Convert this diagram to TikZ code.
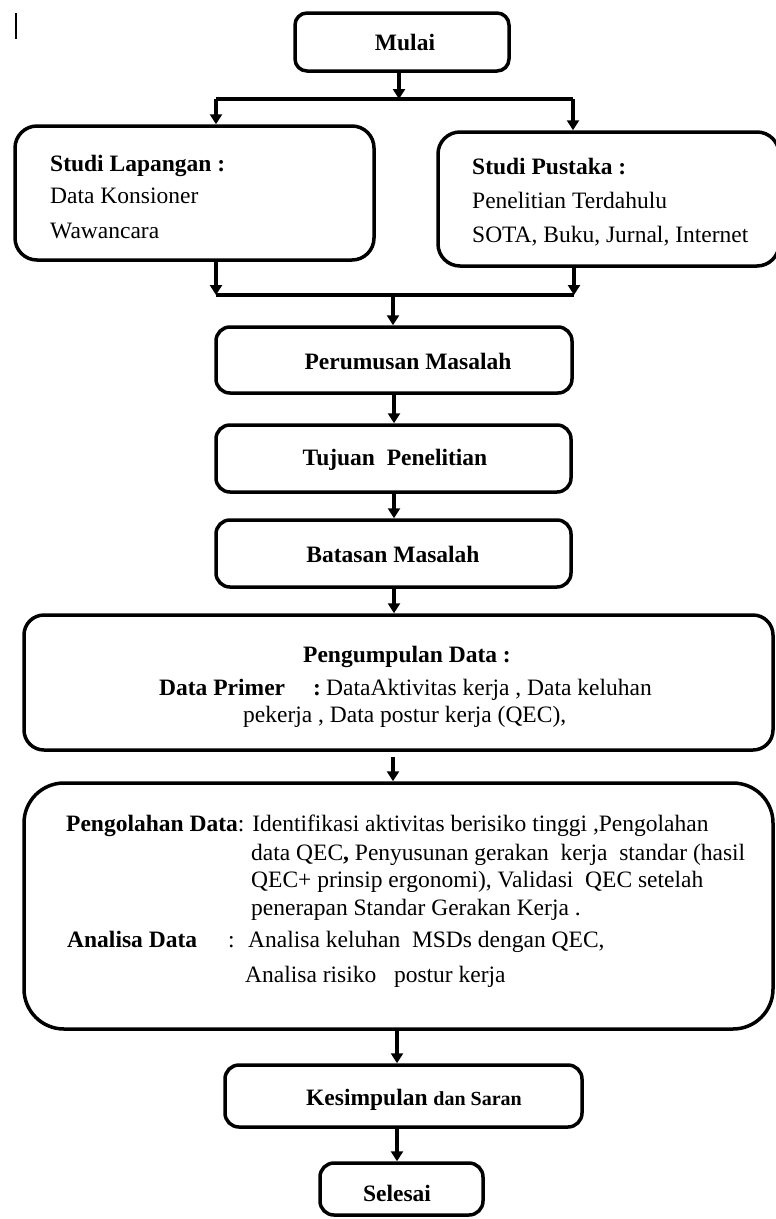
\documentclass[tikz,border=0pt]{standalone}
\usepackage{fontspec}
\setmainfont{Liberation Serif}
\usetikzlibrary{arrows.meta}
\begin{document}
\begin{tikzpicture}[x=1pt,y=-1pt,
  box/.style={draw, line width=3.5pt, rounded corners=#1, inner sep=0pt},
  box/.default=14pt,
  arr/.style={line width=3.5pt, -{Triangle[width=12pt,length=10pt]}},
  ln/.style={line width=3.5pt},
  txt/.style={anchor=base west, inner sep=0pt, font=\fontsize{23.5}{28}\selectfont},
  btxt/.style={anchor=base west, inner sep=0pt, font=\fontsize{23.5}{28}\selectfont\bfseries},
  ctxt/.style={anchor=base, inner sep=0pt, font=\fontsize{23.5}{28}\selectfont\bfseries}]
\useasboundingbox (0,0) rectangle (776,1219);
\fill[white] (0,0) rectangle (776,1219);
% stray mark
\draw[line width=2.5pt] (16,13) -- (16,39);
% boxes
\node[box=12pt, minimum width=214pt, minimum height=58pt] (mulai) at (402,42) {};
\node[box=22pt, minimum width=359pt, minimum height=134pt] (lap) at (194.5,193) {};
\node[box=22pt, minimum width=341pt, minimum height=134pt] (pus) at (608.5,199) {};
\node[box, minimum width=356pt, minimum height=66pt] (perum) at (394,360) {};
\node[box, minimum width=355pt, minimum height=67pt] (tuj) at (393.5,458.5) {};
\node[box, minimum width=355pt, minimum height=67pt] (bat) at (393.5,553.5) {};
\node[box=20pt, minimum width=749pt, minimum height=135pt] (kum) at (398.5,682.5) {};
\node[box=40pt, minimum width=749pt, minimum height=246pt] (olah) at (398.5,906) {};
\node[box, minimum width=357pt, minimum height=62pt] (kes) at (403.5,1096) {};
\node[box=14pt, minimum width=163pt, minimum height=52pt] (sel) at (401.5,1189) {};
% texts
\node[ctxt] (tmulai) at (405,50) {Mulai};
\node[btxt] (tl1) at (50,171) {Studi Lapangan :};
\node[txt] (tl2) at (50,203) {Data Konsioner};
\node[txt] (tl3) at (50,238) {Wawancara};
\node[btxt] (tp1) at (472,174) {Studi Pustaka :};
\node[txt] (tp2) at (472,208) {Penelitian Terdahulu};
\node[txt] (tp3) at (472,242) {SOTA, Buku, Jurnal, Internet};
\node[ctxt] (tperum) at (408,369) {Perumusan Masalah};
\node[ctxt] (ttuj) at (395,465) {Tujuan\ \ Penelitian};
\node[ctxt] (tbat) at (393,562) {Batasan Masalah};
\node[ctxt] (tk1) at (407,662) {Pengumpulan Data :};
\node[btxt] (tk2) at (159,695) {Data Primer};
\node[btxt] (tk3) at (313,695) {:};
\node[txt] (tk4) at (326,695) {DataAktivitas kerja , Data keluhan};
\node[txt] (tk5) at (243,722) {pekerja , Data postur kerja (QEC),};
\node[txt] (to1) at (66,831) {\textbf{Pengolahan Data}: Identifikasi aktivitas berisiko tinggi ,Pengolahan};
\node[txt] (to2) at (251,860) {data QEC\textbf{,} Penyusunan gerakan\ \ kerja\ \ standar (hasil};
\node[txt] (to3) at (251,887) {QEC+ prinsip ergonomi), Validasi\ \ QEC setelah};
\node[txt] (to4) at (251,915) {penerapan Standar Gerakan Kerja .};
\node[btxt] (to5) at (67,947) {Analisa Data};
\node[txt] (to6) at (228,947) {:};
\node[txt] (to7) at (248,947) {Analisa keluhan\ \ MSDs dengan QEC,};
\node[txt] (to8) at (245,982) {Analisa risiko\ \ \ postur kerja};
\node[ctxt] (tkes) at (414,1105) {Kesimpulan {\fontsize{20}{24}\selectfont dan Saran}};
\node[ctxt] (tsel) at (397,1201) {Selesai};
% connectors
\coordinate (s1) at (399,99);
\coordinate (sL) at (216,99);
\coordinate (sR) at (573,99);
\coordinate (j1) at (393,295);
\coordinate (jL) at (216,295);
\coordinate (jR) at (574,295);
\draw[arr] (s1 |- mulai.south) -- (s1);
\draw[ln] (sL) -- (sR);
\draw[arr] (sL) -- (sL |- lap.north);
\draw[arr] (sR) -- (sR |- pus.north);
\draw[arr] (jL |- lap.south) -- (jL);
\draw[arr] (jR |- pus.south) -- (jR);
\draw[ln] (jL) -- (jR);
\draw[arr] (j1) -- (j1 |- perum.north);
\coordinate (ax) at (394,0);
\coordinate (bx) at (397,0);
\draw[arr] (ax |- perum.south) -- (ax |- tuj.north);
\draw[arr] (ax |- tuj.south) -- (ax |- bat.north);
\draw[arr] (ax |- bat.south) -- (ax |- kum.north);
\coordinate (k1) at (393,757);
\draw[arr] (k1) -- (k1 |- olah.north);
\draw[arr] (bx |- olah.south) -- (bx |- kes.north);
\draw[arr] (bx |- kes.south) -- (bx |- sel.north);
\end{tikzpicture}
\end{document}
